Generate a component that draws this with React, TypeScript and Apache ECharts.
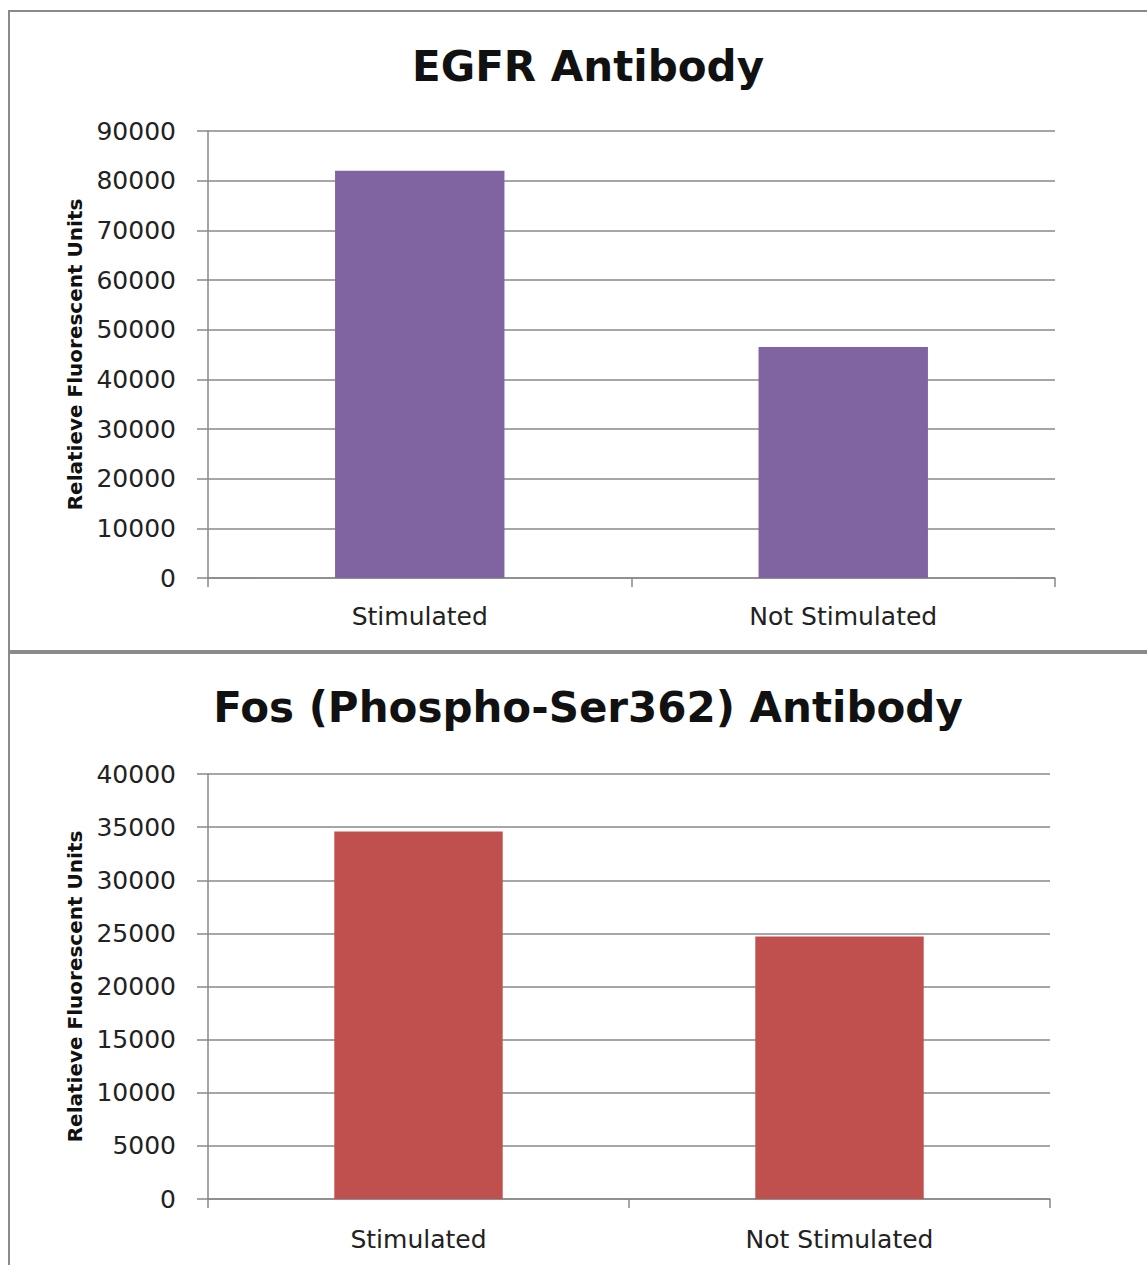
import React, { useEffect, useRef } from "react";
import * as echarts from "echarts";

const categories = ["Stimulated", "Not Stimulated"];
const egfrValues = [82000, 46500];
const fosValues = [34600, 24700];
const egfrTitle = "EGFR Antibody";
const fosTitle = "Fos (Phospho-Ser362) Antibody";
const yName = "Relatieve Fluorescent Units";

export default function App() {
  const ref = useRef<HTMLDivElement>(null);
  useEffect(() => {
    if (!ref.current) return;
    const chart = echarts.init(ref.current, null, { renderer: "svg" });
    const gridColor = "#888888";
    const yAxisCommon = (max: number, interval: number) => ({
      type: "value" as const,
      min: 0,
      max,
      interval,
      name: yName,
      nameLocation: "middle" as const,
      nameGap: 123,
      nameRotate: 90,
      nameTextStyle: { fontFamily: "DejaVu Sans", fontWeight: "bold", fontSize: 20, color: "#111" },
      axisLine: { show: true, lineStyle: { color: gridColor, width: 1.5 } },
      axisTick: { show: true, inside: false, length: 11, lineStyle: { color: gridColor, width: 1.5 } },
      axisLabel: {
        margin: 32,
        fontFamily: "DejaVu Sans",
        fontSize: 25,
        color: "#222",
        formatter: (v: number) => String(v),
      },
      splitLine: { show: true, lineStyle: { color: gridColor, width: 1.5 } },
    });
    const xAxisCommon = (gridIndex: number, margin: number) => ({
      type: "category" as const,
      gridIndex,
      data: categories,
      boundaryGap: true,
      axisLine: { show: true, lineStyle: { color: gridColor, width: 1.5 } },
      axisTick: { show: true, inside: false, length: 9, alignWithLabel: false, lineStyle: { color: gridColor, width: 1.5 } },
      axisLabel: { margin, fontFamily: "DejaVu Sans", fontSize: 25, color: "#222" },
    });
    chart.setOption({
      animation: false,
      backgroundColor: "#ffffff",
      title: [
        {
          text: egfrTitle,
          left: 583,
          top: 40,
          textAlign: "center",
          textStyle: { fontFamily: "DejaVu Sans", fontWeight: "bold", fontSize: 42, color: "#111" },
        },
        {
          text: fosTitle,
          left: 583,
          top: 681,
          textAlign: "center",
          textStyle: { fontFamily: "DejaVu Sans", fontWeight: "bold", fontSize: 42, color: "#111" },
        },
      ],
      graphic: [
        {
          type: "rect",
          shape: { x: 9, y: 11, width: 1160, height: 640 },
          style: { fill: "none", stroke: "#8a8a8a", lineWidth: 2 },
          z: 10,
        },
        {
          type: "rect",
          shape: { x: 9, y: 653, width: 1160, height: 700 },
          style: { fill: "none", stroke: "#8a8a8a", lineWidth: 2 },
          z: 10,
        },
      ],
      grid: [
        { left: 208, right: 92, top: 131, height: 447 },
        { left: 208, right: 97, top: 774, height: 425 },
      ],
      xAxis: [xAxisCommon(0, 26), xAxisCommon(1, 28)],
      yAxis: [
        { ...yAxisCommon(90000, 10000), gridIndex: 0 },
        { ...yAxisCommon(40000, 5000), gridIndex: 1 },
      ],
      series: [
        {
          type: "bar",
          xAxisIndex: 0,
          yAxisIndex: 0,
          data: egfrValues,
          barWidth: "40%",
          itemStyle: { color: "#8064A2" },
        },
        {
          type: "bar",
          xAxisIndex: 1,
          yAxisIndex: 1,
          data: fosValues,
          barWidth: "40%",
          itemStyle: { color: "#C0504D" },
        },
      ],
    });
    return () => chart.dispose();
  }, []);
  return (
    <div
      ref={ref}
      style={{ position: "absolute", left: 0, top: 0, width: 1147, height: 1265, background: "#fff" }}
    />
  );
}
